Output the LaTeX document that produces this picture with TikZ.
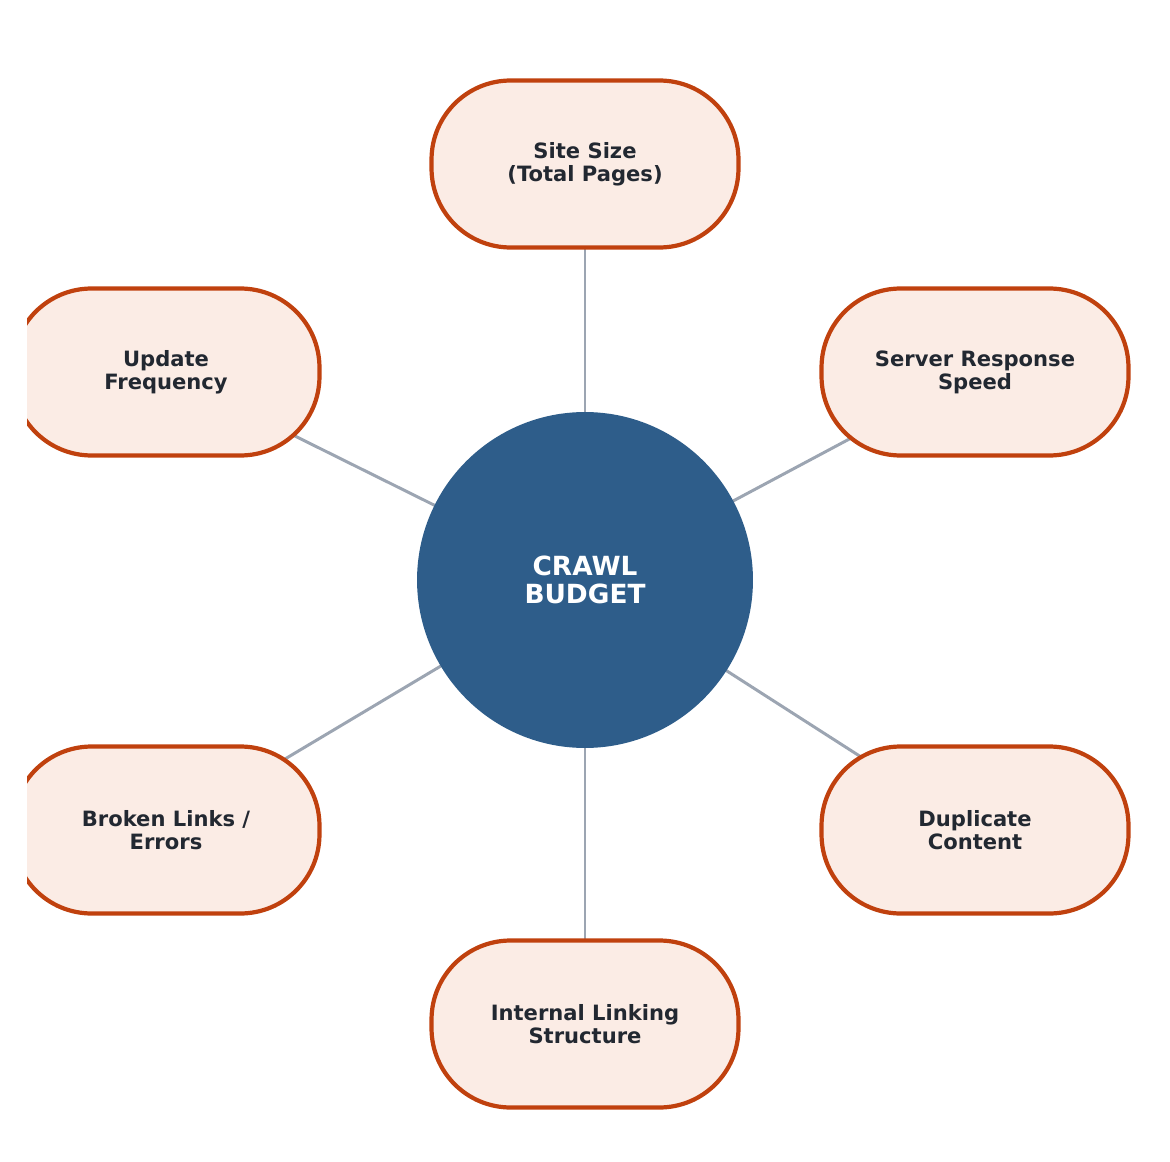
\documentclass[tikz,border=0pt]{standalone}
\usepackage{fontspec}
\setmainfont{DejaVu Sans}
\definecolor{bord}{RGB}{192,65,14}
\definecolor{boxfill}{RGB}{251,236,229}
\definecolor{txt}{RGB}{34,40,49}
\definecolor{hub}{RGB}{46,93,138}
\definecolor{lnk}{RGB}{156,165,178}
\pgfdeclarelayer{bg}
\pgfsetlayers{bg,main}
\begin{document}
\begin{tikzpicture}[x=0.02cm,y=-0.02cm,
  box/.style={draw=bord, line width=2.4pt, fill=boxfill, rounded corners=45pt, minimum width=6.14cm, minimum height=3.34cm, align=center, font=\bfseries\fontsize{12}{13}\selectfont, text=txt},
  link/.style={draw=lnk, line width=1.7pt}]
\useasboundingbox (0,0) rectangle (1170,1162);
\clip (27,0) rectangle (1170,1162);
\node[circle, fill=hub, minimum size=6.72cm, inner sep=0, text=white, align=center, font=\bfseries\fontsize{15}{16}\selectfont] (c) at (585,580) {CRAWL\\BUDGET};
\node[box] (a) at (585,164) {Site Size\\(Total Pages)};
\node[box] (b) at (975,372) {Server Response\\Speed};
\node[box] (d) at (975,830) {Duplicate\\Content};
\node[box] (e) at (585,1024) {Internal Linking\\Structure};
\node[box] (f) at (166,830) {Broken Links /\\Errors};
\node[box] (g) at (166,372) {Update\\Frequency};
\begin{pgfonlayer}{bg}
\foreach \n in {a,b,d,e,f,g} \draw[link] (c.center) -- (\n.center);
\end{pgfonlayer}
\end{tikzpicture}
\end{document}
